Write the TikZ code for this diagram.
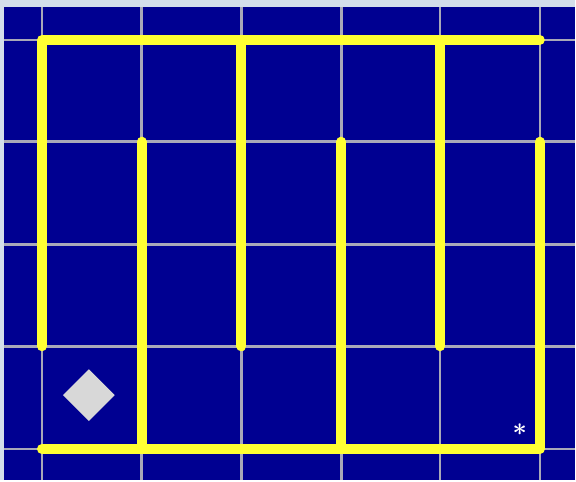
\documentclass[tikz,border=0pt]{standalone}
\usepackage{tikz}
\usetikzlibrary{shapes.geometric}
\definecolor{Frame}{HTML}{D3DEEA}
\definecolor{Navy}{HTML}{000091}
\definecolor{GridGray}{HTML}{A8A8B8}
\definecolor{Wall}{HTML}{FFFF33}
\definecolor{Token}{HTML}{D8D8D8}
\tikzset{
  gridline/.style={draw=GridGray, line width=2.5pt},
  wall/.style={draw=Wall, line width=10pt, line cap=round, line join=round},
  token/.style={diamond, fill=Token, minimum size=52pt, inner sep=0pt},
  goalmark/.style={text=white, inner sep=0pt, font=\fontsize{46}{46}\selectfont\boldmath}
}
\begin{document}
\begin{tikzpicture}[x=1pt,y=-1pt]
  % frame and board
  \fill[Frame] (0,0) rectangle (576,481);
  \fill[Navy] (4,7) rectangle (576,481);
  % grid
  \foreach \x in {42,142,242,342,441,541}
    \draw[gridline] (\x,7) -- (\x,481);
  \foreach \y in {40,142,245,347,450}
    \draw[gridline] (4,\y) -- (576,\y);
  % walls
  \draw[wall] (42,347) -- (42,40) -- (541,40);
  \draw[wall] (42,450) -- (541,450) -- (541,142);
  \foreach \x in {142,342}
    \draw[wall] (\x,142) -- (\x,450);
  \foreach \x in {242,441}
    \draw[wall] (\x,40) -- (\x,347);
  % pieces
  \node[token] (piece) at (89,396) {};
  \node[goalmark] (goal) at (521,431) {$\ast$};
\end{tikzpicture}
\end{document}
